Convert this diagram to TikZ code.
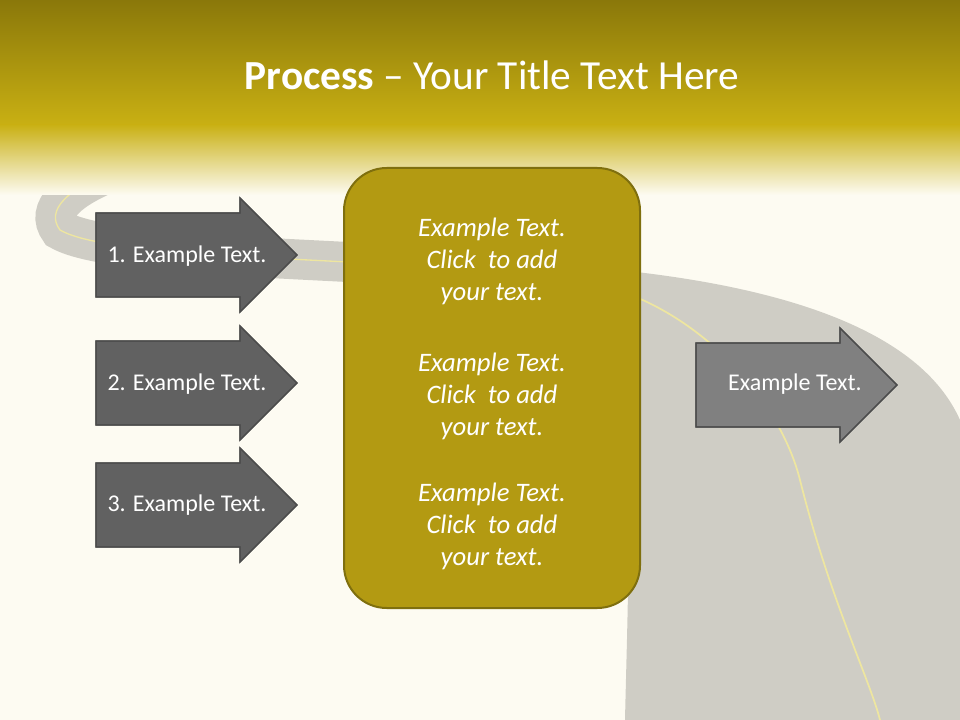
\documentclass[tikz,border=0pt]{standalone}
\usepackage{fontspec}
\setmainfont{Carlito}
\definecolor{cream}{HTML}{FDFBF2}
\definecolor{olivedark}{HTML}{8A780A}
\definecolor{olive}{HTML}{C9B013}
\definecolor{boxfill}{HTML}{B39A12}
\definecolor{boxline}{HTML}{7F6F0E}
\definecolor{road}{HTML}{CFCDC5}
\definecolor{roadline}{HTML}{EEE6A0}
\tikzset{
  arrshape/.style={draw=black!70, line width=1pt, fill=#1},
  arrtext/.style={text=white, font=\fontsize{18}{21}\selectfont},
  boxtext/.style={text=white, font=\itshape\fontsize{20}{24}\selectfont, align=center}
}
\newcommand{\myarrow}[4]{% x0, xbodyend, ytop(head), fill
  \fill[arrshape=#4] (#1,#3+15) -- (#2,#3+15) -- (#2,#3) -- (#2+57,#3+57) -- (#2,#3+114) -- (#2,#3+99) -- (#1,#3+99) -- cycle;
  \draw[draw=black!70, line width=1pt] (#1,#3+15) -- (#2,#3+15) -- (#2,#3) -- (#2+57,#3+57) -- (#2,#3+114) -- (#2,#3+99) -- (#1,#3+99) -- cycle;}
\begin{document}
\begin{tikzpicture}[x=0.75pt,y=-0.75pt]
\useasboundingbox (0,0) rectangle (960,720);
\fill[cream] (0,0) rectangle (960,720);
% road
\draw[road, line width=30pt, line cap=round] (330,122) .. controls (150,145) and (30,190) .. (60,230)
  .. controls (120,265) and (450,255) .. (600,285);
\draw[roadline, line width=1pt] (330,122) .. controls (150,145) and (30,190) .. (60,230)
  .. controls (120,265) and (450,255) .. (600,285);
\fill[road] (560,265) .. controls (780,280) and (920,330) .. (960,420) -- (960,720) -- (625,720)
  .. controls (630,500) and (640,380) .. (560,305) -- cycle;
\draw[roadline, line width=1.3pt] (600,285) .. controls (700,310) and (780,400) .. (800,480) .. controls (830,600) and (870,680) .. (880,720);
% header
\shade[top color=olivedark, bottom color=olive] (0,0) rectangle (960,125);
\shade[top color=olive, bottom color=cream] (0,124.5) rectangle (960,195);
\node (title) at (492,75) {\color{white}\fontsize{31}{36}\selectfont\textbf{Process} -- Your Title Text Here};
% center box
\node (box) [draw=boxline, line width=1.5pt, fill=boxfill, rounded corners=32pt,
  minimum width=222pt, minimum height=330pt] at (492,388) {};
\node (t1) [boxtext] at (492,261) {Example Text.\\Click\ \ to add\\your text.};
\node (t2) [boxtext] at (492,396) {Example Text.\\Click\ \ to add\\your text.};
\node (t3) [boxtext] at (492,526) {Example Text.\\Click\ \ to add\\your text.};
% arrows
\myarrow{96}{240}{198}{black!62}
\myarrow{96}{240}{326}{black!62}
\myarrow{96}{240}{448}{black!62}
\myarrow{696}{840}{328}{black!50}
\node (a1) [arrtext] at (187,256) {1. Example Text.};
\node (a2) [arrtext] at (187,384) {2. Example Text.};
\node (a3) [arrtext] at (187,505) {3. Example Text.};
\node (a4) [arrtext] at (795,384) {Example Text.};
\end{tikzpicture}
\end{document}
